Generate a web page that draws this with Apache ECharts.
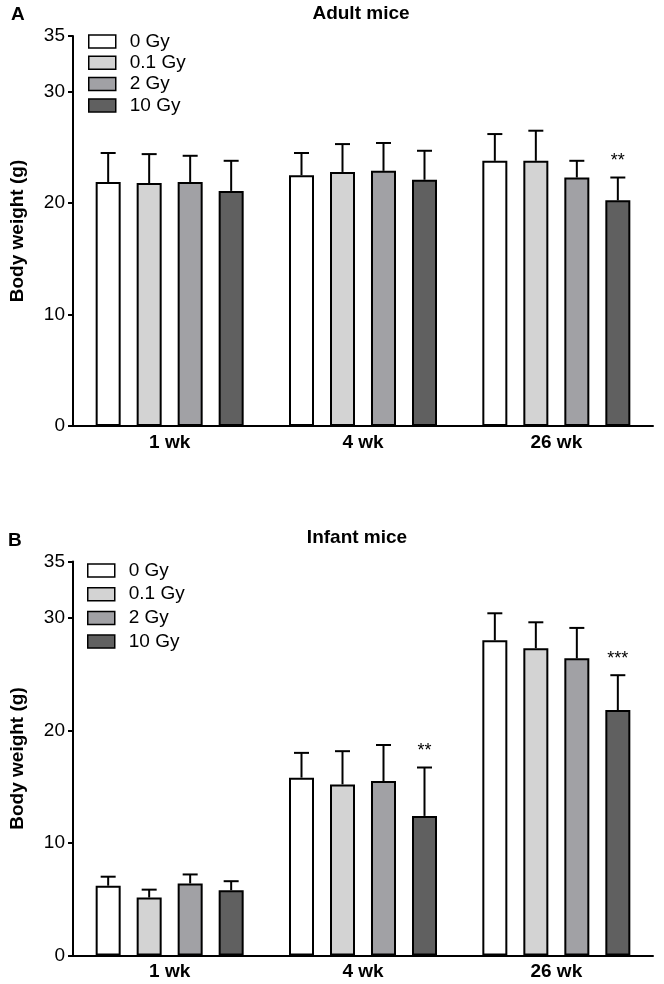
<!DOCTYPE html>
<html><head><meta charset="utf-8">
<script src="https://cdn.jsdelivr.net/npm/echarts@6/dist/echarts.min.js"></script>
<style>html,body{margin:0;padding:0;background:#fff}#c{width:664px;height:984px}</style>
</head><body><div id="c"></div>
<script>
// ---- data ----
const categories = ['1 wk', '4 wk', '26 wk'];
const doses = ['0 Gy', '0.1 Gy', '2 Gy', '10 Gy'];
const yTickMax = 35;
const yTickInterval = 10;

// Panel A: adult mice (mean, upper SD)
const adultMean0Gy   = [21.9, 22.5, 23.8];
const adultMean01Gy  = [21.8, 22.8, 23.8];
const adultMean2Gy   = [21.9, 22.9, 22.3];
const adultMean10Gy  = [21.1, 22.1, 20.25];
const adultSd0Gy     = [2.6, 2.0, 2.4];
const adultSd01Gy    = [2.6, 2.5, 2.7];
const adultSd2Gy     = [2.35, 2.5, 1.5];
const adultSd10Gy    = [2.7, 2.6, 2.05];
const adultSig10Gy   = ['', '', '**'];

// Panel B: infant mice
const infantMean0Gy  = [6.2, 15.8, 28.0];
const infantMean01Gy = [5.15, 15.2, 27.3];
const infantMean2Gy  = [6.4, 15.5, 26.4];
const infantMean10Gy = [5.8, 12.4, 21.8];
const infantSd0Gy    = [0.8, 2.2, 2.4];
const infantSd01Gy   = [0.7, 2.95, 2.3];
const infantSd2Gy    = [0.8, 3.2, 2.7];
const infantSd10Gy   = [0.8, 4.3, 3.1];
const infantSig10Gy  = ['', '**', '***'];

// ---- styling ----
const FONT = '"Liberation Sans", Arial, sans-serif';
const fills = ['#ffffff', '#d3d3d3', '#a1a1a5', '#606060'];
const BAR_W = 25;
const BAR_GAP = 0.64;

const adultMeans = [adultMean0Gy, adultMean01Gy, adultMean2Gy, adultMean10Gy];
const adultSds = [adultSd0Gy, adultSd01Gy, adultSd2Gy, adultSd10Gy];
const adultSigs = [['', '', ''], ['', '', ''], ['', '', ''], adultSig10Gy];
const infantMeans = [infantMean0Gy, infantMean01Gy, infantMean2Gy, infantMean10Gy];
const infantSds = [infantSd0Gy, infantSd01Gy, infantSd2Gy, infantSd10Gy];
const infantSigs = [['', '', ''], ['', '', ''], ['', '', ''], infantSig10Gy];

function buildErr(means, sds, sigs) {
  const data = [], sigList = [];
  for (let s = 0; s < means.length; s++) {
    for (let c = 0; c < categories.length; c++) {
      data.push([c, s, means[s][c], sds[s][c]]);
      sigList.push(sigs[s][c]);
    }
  }
  return { data, sigList };
}

function makeRender(sigList) {
  return function (params, api) {
    const cat = api.value(0), s = api.value(1), mean = api.value(2), sd = api.value(3);
    const pitch = BAR_W * (1 + BAR_GAP);
    const p0 = api.coord([cat, mean]);
    const p1 = api.coord([cat, mean + sd]);
    const x = p0[0] + (s - 1.5) * pitch;
    const children = [
      { type: 'line', shape: { x1: x, y1: p0[1], x2: x, y2: p1[1] }, style: { stroke: '#000', lineWidth: 2 } },
      { type: 'line', shape: { x1: x - 7.5, y1: p1[1], x2: x + 7.5, y2: p1[1] }, style: { stroke: '#000', lineWidth: 2 } }
    ];
    const sig = sigList[params.dataIndex];
    if (sig) {
      children.push({ type: 'text', style: { text: sig, x: x, y: p1[1] - 16, align: 'center', verticalAlign: 'middle', font: '18px ' + FONT, fill: '#000' } });
    }
    return { type: 'group', children };
  };
}

const grids = [
  { left: 69, right: 11, top: 36, height: 390 },
  { left: 69, right: 11, top: 561.5, height: 394 }
];

const xAxes = grids.map((g, i) => ({
  type: 'category', gridIndex: i, data: categories,
  axisLine: { lineStyle: { color: '#000', width: 2 } },
  axisTick: { show: false },
  axisLabel: { color: '#000', fontFamily: FONT, fontSize: 19, fontWeight: 'bold', margin: 7 }
}));
const yAxes = grids.map((g, i) => ({
  type: 'value', gridIndex: i, min: 0, max: yTickMax, interval: yTickInterval,
  name: 'Body weight (g)', nameLocation: 'middle', nameGap: 46,
  nameTextStyle: { color: '#000', fontFamily: FONT, fontSize: 19, fontWeight: 'bold' },
  axisLine: { show: true, lineStyle: { color: '#000', width: 2 } },
  axisTick: { show: true, length: 5, lineStyle: { color: '#000', width: 2 } },
  axisLabel: { color: '#000', fontFamily: FONT, fontSize: 19, margin: 8 },
  splitLine: { show: false }
}));

const series = [];
[[adultMeans, adultSds, adultSigs], [infantMeans, infantSds, infantSigs]].forEach((panel, gi) => {
  const [means, sds, sigs] = panel;
  doses.forEach((d, s) => {
    series.push({
      type: 'bar', name: d, xAxisIndex: gi, yAxisIndex: gi, data: means[s],
      barWidth: BAR_W, barGap: (BAR_GAP * 100) + '%',
      itemStyle: { color: fills[s], borderColor: '#000', borderWidth: 2 },
      emphasis: { disabled: true }, z: 2
    });
  });
  const e = buildErr(means, sds, sigs);
  series.push({
    type: 'custom', xAxisIndex: gi, yAxisIndex: gi, data: e.data,
    renderItem: makeRender(e.sigList), z: 3, silent: true
  });
});

const legendBase = {
  orient: 'vertical', icon: 'rect', itemWidth: 27, itemHeight: 13, padding: 0,
  data: doses, selectedMode: false,
  itemStyle: { borderColor: '#000', borderWidth: 1.5 },
  textStyle: { color: '#000', fontFamily: FONT, fontSize: 19, lineHeight: 19, padding: [0, 0, 0, 9] }
};

const option = {
  animation: false,
  backgroundColor: '#fff',
  grid: grids,
  xAxis: xAxes,
  yAxis: yAxes,
  legend: [
    Object.assign({}, legendBase, { left: 88, top: 32, itemGap: 2.3 }),
    Object.assign({}, legendBase, { left: 87, top: 561, itemGap: 4.7 })
  ],
  graphic: [
    { type: 'text', left: 11, top: 5, style: { text: 'A', font: 'bold 19px ' + FONT, fill: '#000' } },
    { type: 'text', x: 361, y: 13.5, style: { text: 'Adult mice', font: 'bold 19px ' + FONT, fill: '#000', align: 'center', verticalAlign: 'middle' } },
    { type: 'text', left: 8, top: 531, style: { text: 'B', font: 'bold 19px ' + FONT, fill: '#000' } },
    { type: 'text', x: 357, y: 537.5, style: { text: 'Infant mice', font: 'bold 19px ' + FONT, fill: '#000', align: 'center', verticalAlign: 'middle' } }
  ],
  series
};

const chart = echarts.init(document.getElementById('c'), null, { renderer: 'canvas' });
chart.setOption(option);
</script>
</body></html>
